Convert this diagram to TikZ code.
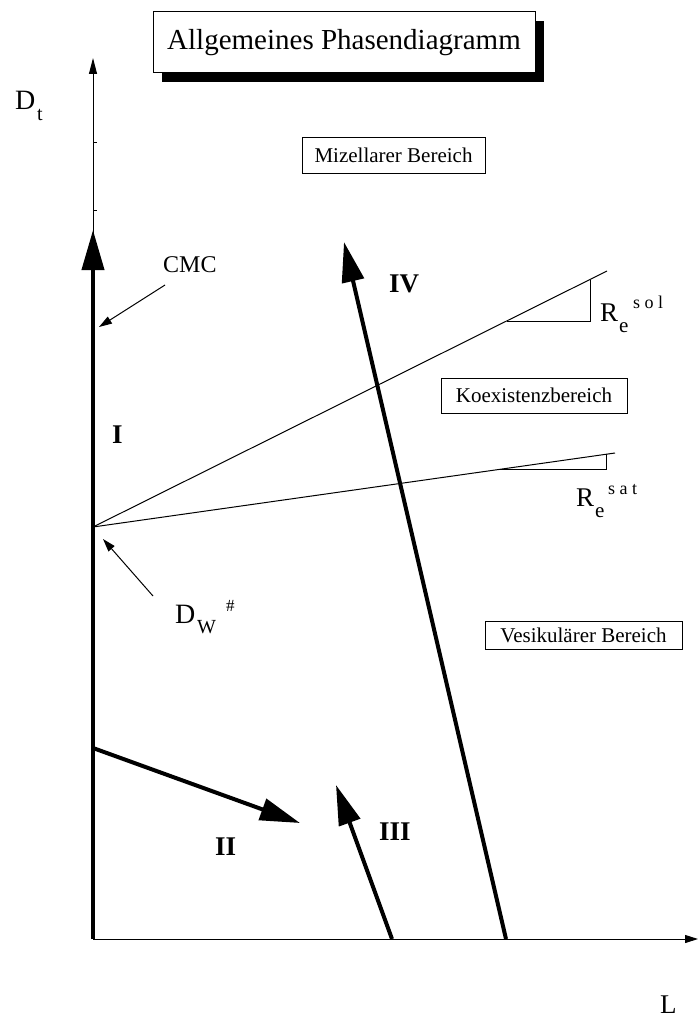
\documentclass[tikz,border=0pt]{standalone}
\usepackage{fontspec}
\setmainfont{Liberation Serif}
\usetikzlibrary{arrows.meta,shadows}
\begin{document}
\begin{tikzpicture}[x=1pt,y=-1pt,
  lbl/.style={inner sep=0pt, anchor=base west},
  big/.style={font=\fontsize{27}{27}\selectfont},
  roman/.style={inner sep=0pt, anchor=base west, font=\bfseries\fontsize{27}{27}\selectfont},
  region/.style={draw, line width=0.8pt, inner sep=0pt, font=\fontsize{21}{21}\selectfont},
  thickarrow/.style={line width=4pt, -{Triangle[length=40pt,width=22pt]}},
  thinarrow/.style={line width=1pt, -{Triangle[length=13pt,width=8pt]}},
  thinline/.style={line width=1pt},
]
\useasboundingbox (0,0) rectangle (698,1022);
% title
\node[draw, line width=1pt, fill=white, minimum width=382pt, minimum height=61pt, inner sep=0pt,
  drop shadow={shadow xshift=9pt, shadow yshift=-9pt, opacity=1, fill=black},
  font=\fontsize{29}{29}\selectfont] (title) at (344,42.5) {Allgemeines Phasendiagramm};
% axes
\coordinate (O) at (93,939);
\coordinate (ytop) at (93,58);
\coordinate (xend) at (698,939);
\draw[thinline, -{Triangle[length=16pt,width=8pt]}] (O) -- (ytop);
\draw[thinline, -{Triangle[length=13pt,width=8pt]}] (O) -- (xend);
\foreach \yy in {142,210} \draw[thinline] (93,\yy) -- (97,\yy);
% axis labels
\node[lbl, font=\fontsize{28}{28}\selectfont] (Dt) at (15,110) {D};
\node[lbl, font=\fontsize{20}{20}\selectfont] (Dtsub) at (37,121) {t};
\node[lbl, big] (Llbl) at (660,1013) {L};
% thick arrow I
\coordinate (cmcpt) at (93,230);
\draw[thickarrow] (O) -- (cmcpt);
% CMC
\node[lbl, font=\fontsize{24}{24}\selectfont] (cmc) at (163,272) {CMC};
\coordinate (cmcA) at (165,285);
\coordinate (cmcB) at (99,327);
\draw[thinarrow] (cmcA) -- (cmcB);
\node[roman] (rI) at (112,443) {I};
% lines
\coordinate (Dw) at (93,527);
\coordinate (solend) at (607,271);
\coordinate (satend) at (615,453);
\draw[thinline] (Dw) -- (solend);
\draw[thinline] (Dw) -- (satend);
\draw[thinline] (507,321) -- (590,321) -- (590,279.5);
\draw[thinline] (500,469.5) -- (606,469.5) -- (606,454.3);
% R labels
\node[lbl, big] (Rsol) at (600,321) {R};
\node[lbl, font=\fontsize{21}{21}\selectfont] (Rsole) at (619,332) {e};
\node[lbl, font=\fontsize{18}{18}\selectfont] (Rsols) at (633,308) {s o l};
\node[lbl, big] (Rsat) at (576,506) {R};
\node[lbl, font=\fontsize{21}{21}\selectfont] (Rsate) at (595,517) {e};
\node[lbl, font=\fontsize{18}{18}\selectfont] (Rsats) at (608,494) {s a t};
% D_W
\coordinate (dwA) at (153,596);
\coordinate (dwB) at (103,539);
\draw[thinarrow] (dwA) -- (dwB);
\node[lbl, font=\fontsize{28}{28}\selectfont] (DW) at (175,623) {D};
\node[lbl, font=\fontsize{20}{20}\selectfont] (DWsub) at (197,633) {W};
\node[lbl, font=\fontsize{17}{17}\selectfont] (DWsup) at (226,611) {\#};
% region boxes
\node[region, minimum width=183pt, minimum height=36pt] (miz) at (393.5,155) {Mizellarer Bereich};
\node[region, minimum width=186pt, minimum height=35pt] (koex) at (534,395.5) {Koexistenzbereich};
\node[region, minimum width=197pt, minimum height=28pt] (ves) at (583.5,635.5) {Vesikulärer Bereich};
% arrows IV, II, III
\coordinate (IVs) at (506,939);
\coordinate (IVe) at (344,242);
\draw[thickarrow] (IVs) -- (IVe);
\node[roman] (rIV) at (389,292) {IV};
\coordinate (IIs) at (93,748);
\coordinate (IIe) at (300,823);
\draw[thickarrow] (IIs) -- (IIe);
\node[roman] (rII) at (215,855) {II};
\coordinate (IIIs) at (392,939);
\coordinate (IIIe) at (336,785);
\draw[thickarrow] (IIIs) -- (IIIe);
\node[roman] (rIII) at (379,840) {III};
\end{tikzpicture}
\end{document}
